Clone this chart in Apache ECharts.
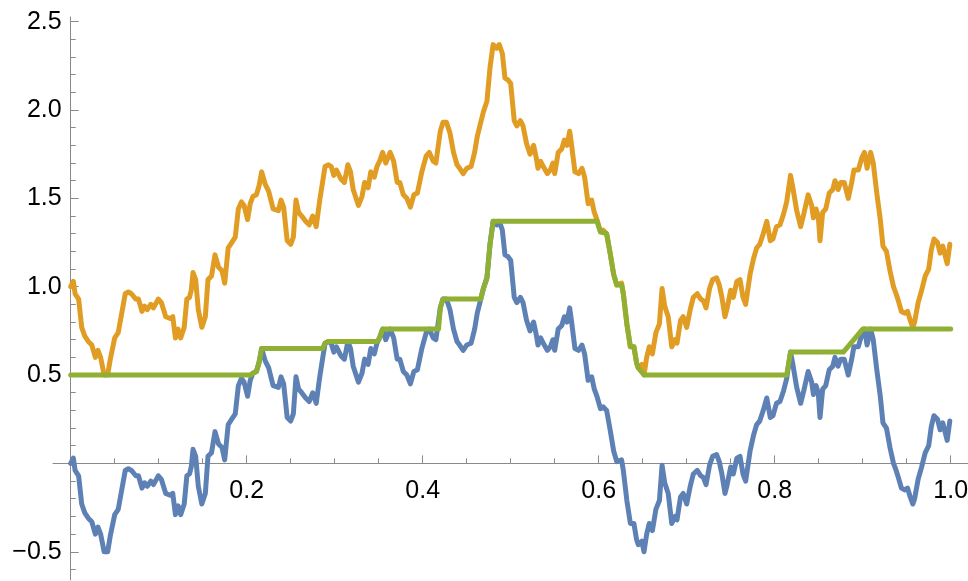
<!DOCTYPE html>
<html>
<head>
<meta charset="utf-8">
<script src="https://cdn.jsdelivr.net/npm/echarts@6/dist/echarts.min.js"></script>
<style>
html, body { margin: 0; padding: 0; background: #ffffff; }
#chart { width: 968px; height: 581px; }
</style>
</head>
<body>
<div id="chart"></div>
<script>
// Sample times of the path
const time = [
  0.000, 0.003, 0.005, 0.009, 0.0125, 0.016, 0.020, 0.024, 0.028, 0.031,
  0.034, 0.038, 0.042, 0.045, 0.050, 0.054, 0.058, 0.062, 0.0655, 0.069,
  0.074, 0.077, 0.081, 0.084, 0.087, 0.091, 0.094, 0.0996, 0.103, 0.108,
  0.113, 0.116, 0.119, 0.122, 0.125, 0.129, 0.132, 0.135, 0.137, 0.139,
  0.142, 0.145, 0.149, 0.153, 0.156, 0.160, 0.164, 0.168, 0.172, 0.175,
  0.179, 0.183, 0.187, 0.1905, 0.194, 0.197, 0.201, 0.204, 0.207, 0.211,
  0.214, 0.217, 0.221, 0.225, 0.230, 0.236, 0.239, 0.242, 0.246, 0.250,
  0.253, 0.256, 0.259, 0.2625, 0.267, 0.271, 0.275, 0.279, 0.283, 0.289,
  0.293, 0.296, 0.299, 0.302, 0.307, 0.311, 0.315, 0.318, 0.321, 0.327,
  0.331, 0.334, 0.338, 0.341, 0.345, 0.348, 0.351, 0.3545, 0.358, 0.363,
  0.367, 0.371, 0.374, 0.378, 0.382, 0.386, 0.390, 0.394, 0.399, 0.404,
  0.4075, 0.412, 0.415, 0.420, 0.423, 0.427, 0.431, 0.435, 0.439, 0.442,
  0.446, 0.450, 0.455, 0.459, 0.462, 0.465, 0.469, 0.473, 0.4765, 0.480,
  0.484, 0.487, 0.4905, 0.4935, 0.497, 0.500, 0.504, 0.507, 0.511, 0.514,
  0.518, 0.522, 0.526, 0.529, 0.531, 0.534, 0.537, 0.5416, 0.545, 0.548,
  0.550, 0.554, 0.558, 0.561, 0.564, 0.567, 0.569, 0.573, 0.577, 0.581,
  0.584, 0.588, 0.592, 0.595, 0.598, 0.602, 0.605, 0.609, 0.613, 0.617,
  0.6205, 0.626, 0.628, 0.632, 0.636, 0.640, 0.643, 0.645, 0.649, 0.6515,
  0.6545, 0.6575, 0.661, 0.665, 0.669, 0.672, 0.675, 0.679, 0.683, 0.687,
  0.689, 0.693, 0.696, 0.700, 0.704, 0.7075, 0.712, 0.716, 0.719, 0.722,
  0.726, 0.7295, 0.734, 0.737, 0.740, 0.7435, 0.746, 0.750, 0.753, 0.757,
  0.7606, 0.764, 0.767, 0.772, 0.776, 0.7795, 0.783, 0.787, 0.791, 0.795,
  0.798, 0.802, 0.806, 0.810, 0.8136, 0.818, 0.821, 0.825, 0.8295, 0.833,
  0.838, 0.842, 0.844, 0.847, 0.8495, 0.8515, 0.8545, 0.858, 0.862, 0.866,
  0.8685, 0.872, 0.875, 0.879, 0.8836, 0.8875, 0.890, 0.895, 0.899, 0.902,
  0.905, 0.909, 0.912, 0.916, 0.920, 0.923, 0.927, 0.931, 0.935, 0.938,
  0.9405, 0.944, 0.948, 0.951, 0.954, 0.957, 0.959, 0.963, 0.967, 0.971,
  0.975, 0.978, 0.981, 0.985, 0.988, 0.991, 0.9935, 0.996, 0.999
];

// Lower path (blue)
const blue = [
  0.00, 0.03, -0.04, -0.07, -0.23, -0.28, -0.31, -0.33, -0.40, -0.36,
  -0.40, -0.50, -0.50, -0.41, -0.29, -0.26, -0.15, -0.04, -0.03, -0.04,
  -0.07, -0.07, -0.14, -0.11, -0.13, -0.10, -0.12, -0.07, -0.09, -0.17,
  -0.18, -0.17, -0.29, -0.24, -0.29, -0.23, -0.07, -0.06, -0.02, 0.08,
  0.04, -0.13, -0.23, -0.17, 0.04, 0.06, 0.18, 0.11, 0.09, 0.02,
  0.22, 0.25, 0.28, 0.44, 0.48, 0.46, 0.38, 0.47, 0.51, 0.52,
  0.57, 0.65, 0.58, 0.54, 0.44, 0.43, 0.49, 0.45, 0.26, 0.24,
  0.28, 0.49, 0.42, 0.40, 0.37, 0.35, 0.40, 0.34, 0.49, 0.68,
  0.69, 0.68, 0.63, 0.66, 0.61, 0.59, 0.69, 0.65, 0.55, 0.46,
  0.51, 0.59, 0.56, 0.65, 0.62, 0.68, 0.71, 0.76, 0.70, 0.76,
  0.71, 0.59, 0.59, 0.52, 0.50, 0.45, 0.52, 0.53, 0.65, 0.74,
  0.76, 0.71, 0.70, 0.88, 0.93, 0.93, 0.87, 0.76, 0.69, 0.67,
  0.64, 0.67, 0.68, 0.76, 0.85, 0.91, 0.99, 1.05, 1.24, 1.37,
  1.35, 1.37, 1.32, 1.18, 1.17, 1.15, 0.94, 0.91, 0.94, 0.91,
  0.81, 0.75, 0.80, 0.73, 0.67, 0.71, 0.68, 0.64, 0.66, 0.70,
  0.64, 0.76, 0.78, 0.83, 0.80, 0.88, 0.81, 0.65, 0.64, 0.67,
  0.62, 0.47, 0.49, 0.42, 0.38, 0.31, 0.32, 0.30, 0.19, 0.07,
  0.01, 0.02, -0.04, -0.21, -0.34, -0.34, -0.43, -0.46, -0.44, -0.50,
  -0.40, -0.34, -0.38, -0.26, -0.21, -0.01, -0.11, -0.17, -0.34, -0.30,
  -0.32, -0.19, -0.17, -0.23, -0.13, -0.06, -0.04, -0.07, -0.08, -0.12,
  -0.01, 0.04, 0.05, 0.01, -0.06, -0.17, -0.12, -0.02, -0.06, 0.03,
  0.04, -0.06, -0.10, 0.07, 0.16, 0.22, 0.24, 0.30, 0.37, 0.26,
  0.27, 0.34, 0.35, 0.41, 0.48, 0.63, 0.55, 0.43, 0.34, 0.41,
  0.52, 0.46, 0.39, 0.44, 0.40, 0.26, 0.42, 0.44, 0.53, 0.55,
  0.60, 0.55, 0.59, 0.59, 0.50, 0.59, 0.66, 0.66, 0.73, 0.76,
  0.67, 0.76, 0.70, 0.53, 0.38, 0.23, 0.20, 0.09, 0.00, -0.04,
  -0.08, -0.14, -0.15, -0.14, -0.19, -0.23, -0.20, -0.09, -0.02, 0.06,
  0.10, 0.21, 0.27, 0.25, 0.19, 0.23, 0.18, 0.13, 0.24
];

// Upper path (orange), one unit above the lower path
const orange = [
  1.00, 1.03, 0.96, 0.93, 0.77, 0.72, 0.69, 0.67, 0.60, 0.64,
  0.60, 0.50, 0.50, 0.59, 0.71, 0.74, 0.85, 0.96, 0.97, 0.96,
  0.93, 0.93, 0.86, 0.89, 0.87, 0.90, 0.88, 0.93, 0.91, 0.83,
  0.82, 0.83, 0.71, 0.76, 0.71, 0.77, 0.93, 0.94, 0.98, 1.08,
  1.04, 0.87, 0.77, 0.83, 1.04, 1.06, 1.18, 1.11, 1.09, 1.02,
  1.22, 1.25, 1.28, 1.44, 1.48, 1.46, 1.38, 1.47, 1.51, 1.52,
  1.57, 1.65, 1.58, 1.54, 1.44, 1.43, 1.49, 1.45, 1.26, 1.24,
  1.28, 1.49, 1.42, 1.40, 1.37, 1.35, 1.40, 1.34, 1.49, 1.68,
  1.69, 1.68, 1.63, 1.66, 1.61, 1.59, 1.69, 1.65, 1.55, 1.46,
  1.51, 1.59, 1.56, 1.65, 1.62, 1.68, 1.71, 1.76, 1.70, 1.76,
  1.71, 1.59, 1.59, 1.52, 1.50, 1.45, 1.52, 1.53, 1.65, 1.74,
  1.76, 1.71, 1.70, 1.88, 1.93, 1.93, 1.87, 1.76, 1.69, 1.67,
  1.64, 1.67, 1.68, 1.76, 1.85, 1.91, 1.99, 2.05, 2.24, 2.37,
  2.35, 2.37, 2.32, 2.18, 2.17, 2.15, 1.94, 1.91, 1.94, 1.91,
  1.81, 1.75, 1.80, 1.73, 1.67, 1.71, 1.68, 1.64, 1.66, 1.70,
  1.64, 1.76, 1.78, 1.83, 1.80, 1.88, 1.81, 1.65, 1.64, 1.67,
  1.62, 1.47, 1.49, 1.42, 1.38, 1.31, 1.32, 1.30, 1.19, 1.07,
  1.01, 1.02, 0.96, 0.79, 0.66, 0.66, 0.57, 0.54, 0.56, 0.50,
  0.60, 0.66, 0.62, 0.74, 0.79, 0.99, 0.89, 0.83, 0.66, 0.70,
  0.68, 0.81, 0.83, 0.77, 0.87, 0.94, 0.96, 0.93, 0.92, 0.88,
  0.99, 1.04, 1.05, 1.01, 0.94, 0.83, 0.88, 0.98, 0.94, 1.03,
  1.04, 0.94, 0.90, 1.07, 1.16, 1.22, 1.24, 1.30, 1.37, 1.26,
  1.27, 1.34, 1.35, 1.41, 1.48, 1.63, 1.55, 1.43, 1.34, 1.41,
  1.52, 1.46, 1.39, 1.44, 1.40, 1.26, 1.42, 1.44, 1.53, 1.55,
  1.60, 1.55, 1.59, 1.59, 1.50, 1.59, 1.66, 1.66, 1.73, 1.76,
  1.67, 1.76, 1.70, 1.53, 1.38, 1.23, 1.20, 1.09, 1.00, 0.96,
  0.92, 0.86, 0.85, 0.86, 0.81, 0.77, 0.80, 0.91, 0.98, 1.06,
  1.10, 1.21, 1.27, 1.25, 1.19, 1.23, 1.18, 1.13, 1.24
];

// Path held between the two (green), listed at its corners
const greenTime = [
  0.000, 0.204, 0.207, 0.211, 0.214, 0.217, 0.286, 0.289, 0.293, 0.348,
  0.351, 0.3545, 0.418, 0.420, 0.423, 0.466, 0.469, 0.473, 0.4765, 0.480,
  0.598, 0.602, 0.609, 0.613, 0.617, 0.6205, 0.626, 0.628, 0.632, 0.636,
  0.640, 0.643, 0.645, 0.6515, 0.8136, 0.818, 0.878, 0.900, 1.000
];
const green = [
  0.50, 0.50, 0.51, 0.52, 0.57, 0.65, 0.65, 0.68, 0.69, 0.69,
  0.71, 0.76, 0.76, 0.88, 0.93, 0.93, 0.99, 1.05, 1.24, 1.37,
  1.37, 1.31, 1.30, 1.19, 1.07, 1.01, 1.01, 0.96, 0.79, 0.66,
  0.66, 0.57, 0.54, 0.50, 0.50, 0.63, 0.63, 0.76, 0.76
];

// Tick labels
const xTickValues = [0.2, 0.4, 0.6, 0.8, 1.0];
const xTickLabels = ['0.2', '0.4', '0.6', '0.8', '1.0'];
const yTickValues = [-0.5, 0.5, 1.0, 1.5, 2.0, 2.5];
const yTickLabels = ['\u22120.5', '0.5', '1.0', '1.5', '2.0', '2.5'];

const AXIS_COLOR = '#8a8a8a';
const FONT = '"Liberation Sans", Arial, Helvetica, sans-serif';

function lookup(values, labels) {
  return function (v) {
    for (let i = 0; i < values.length; i++) {
      if (Math.abs(values[i] - v) < 1e-9) return labels[i];
    }
    return '';
  };
}

function pairs(xs, ys) {
  return xs.map((x, i) => [x, ys[i]]);
}

const tickStyle = { color: AXIS_COLOR, width: 1 };
const labelStyle = { color: '#000000', fontSize: 25, fontFamily: FONT };

const chart = echarts.init(document.getElementById('chart'), null, { renderer: 'canvas' });

chart.setOption({
  animation: false,
  backgroundColor: '#ffffff',
  grid: [
    // frame grid: carries only the two axis lines, crossing at the origin
    { left: 53, right: 0, top: 17, bottom: 1, containLabel: false, outerBoundsMode: 'none' },
    // plotting grid: t from 0 to 1, values from -1 to 2.5
    { left: 70.7, right: 17.3, top: 21.65, bottom: -59.1, containLabel: false, outerBoundsMode: 'none' },
    // upper half-plane grid: its bottom edge is the line value = 0, carries the t ticks
    { left: 70.7, right: 17.3, top: 21.65, bottom: 117.6, containLabel: false, outerBoundsMode: 'none' }
  ],
  xAxis: [
    {
      type: 'value', gridIndex: 0, min: -0.0201, max: 1.0197,
      axisLine: { show: true, onZero: true, lineStyle: tickStyle },
      axisTick: { show: false }, axisLabel: { show: false }, splitLine: { show: false }
    },
    {
      type: 'value', gridIndex: 1, min: 0, max: 1, show: false,
      axisLine: { show: false, onZero: false }, splitLine: { show: false }
    },
    {
      type: 'value', gridIndex: 2, min: 0, max: 1, interval: 0.2, position: 'bottom',
      axisLine: { show: false, onZero: false },
      axisTick: { show: true, inside: true, length: 8, lineStyle: tickStyle },
      minorTick: { show: true, splitNumber: 4, length: 5, lineStyle: tickStyle },
      axisLabel: Object.assign({ show: true, margin: 15, formatter: lookup(xTickValues, xTickLabels) }, labelStyle),
      splitLine: { show: false }, minorSplitLine: { show: false }
    }
  ],
  yAxis: [
    {
      type: 'value', gridIndex: 0, min: -0.6599, max: 2.5263,
      axisLine: { show: true, onZero: true, lineStyle: tickStyle },
      axisTick: { show: false }, axisLabel: { show: false }, splitLine: { show: false }
    },
    {
      type: 'value', gridIndex: 1, min: -1.0, max: 2.5, interval: 0.5,
      axisLine: { show: false, onZero: false },
      axisTick: { show: true, inside: true, length: 8, lineStyle: tickStyle },
      minorTick: { show: true, splitNumber: 5, length: 5, lineStyle: tickStyle },
      axisLabel: Object.assign({ show: true, margin: 9, formatter: lookup(yTickValues, yTickLabels) }, labelStyle),
      splitLine: { show: false }, minorSplitLine: { show: false }
    },
    {
      type: 'value', gridIndex: 2, min: 0, max: 2.5, show: false,
      axisLine: { show: false, onZero: false }, splitLine: { show: false }
    }
  ],
  series: [
    {
      name: 'lower', type: 'line', xAxisIndex: 1, yAxisIndex: 1,
      data: pairs(time, blue), showSymbol: false, symbol: 'none', clip: false,
      lineStyle: { color: '#5E81B5', width: 5, join: 'round', cap: 'round' }, z: 2
    },
    {
      name: 'upper', type: 'line', xAxisIndex: 1, yAxisIndex: 1,
      data: pairs(time, orange), showSymbol: false, symbol: 'none', clip: false,
      lineStyle: { color: '#E19C24', width: 5, join: 'round', cap: 'round' }, z: 3
    },
    {
      name: 'held', type: 'line', xAxisIndex: 1, yAxisIndex: 1,
      data: pairs(greenTime, green), showSymbol: false, symbol: 'none', clip: false,
      lineStyle: { color: '#8FB032', width: 5, join: 'round', cap: 'round' }, z: 4
    }
  ]
});
</script>
</body>
</html>
